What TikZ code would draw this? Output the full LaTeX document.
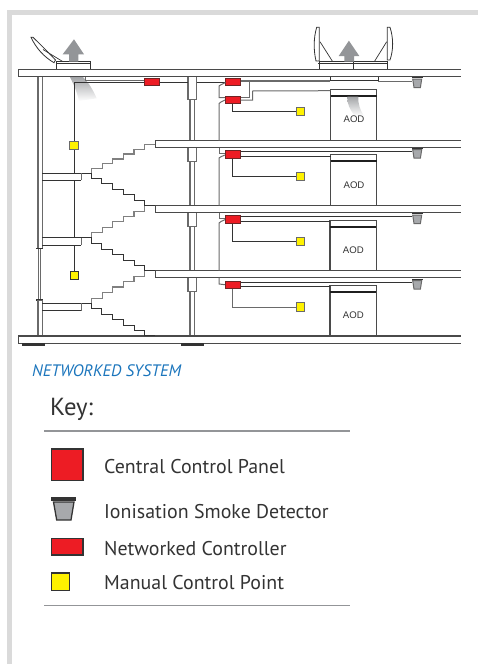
\documentclass[tikz,border=0pt]{standalone}
\usepackage{fontspec}
\setmainfont{PT Sans}
\setsansfont{Liberation Sans}
\usetikzlibrary{calc}
\definecolor{frameg}{HTML}{DADADA}
\definecolor{ln}{HTML}{333333}
\definecolor{lg}{HTML}{6A6A6A}
\definecolor{redc}{HTML}{ED1C24}
\definecolor{yel}{HTML}{FFF200}
\definecolor{arrowg}{HTML}{939598}
\definecolor{cupg}{HTML}{A7A9AC}
\definecolor{blu}{HTML}{1B75BC}
\definecolor{txt}{HTML}{333333}
\tikzset{
 x=1pt,y=-1pt,
 thinl/.style={draw=ln,line width=0.9pt},
 greyl/.style={draw=lg,line width=1pt},
 wall/.style={draw=lg,line width=1.3pt,fill=white},
 slabedge/.style={draw=lg!70!black,line width=1.2pt},
 stairg/.style={draw=lg!85!white,line width=1.2pt},
 stairk/.style={draw=ln,line width=1pt},
 ctrl/.style={draw=ln!70!red,line width=1pt,fill=redc,minimum width=14.7pt,minimum height=7.4pt,inner sep=0pt},
 mcp/.style={draw=lg,line width=1.1pt,fill=yel,minimum width=8.2pt,minimum height=8.2pt,inner sep=0pt},
 aodtxt/.style={font=\sffamily\fontsize{9.6}{11}\selectfont,text=txt,inner sep=0pt},
 keytxt/.style={font=\fontsize{19.9}{23}\selectfont,text=txt,anchor=base west,inner sep=0pt},
}
% detector: x-centre, y of top bar
\newcommand{\detector}[2]{%
 \fill[ln] (#1-5.5,#2) rectangle (#1+5.5,#2+1);
 \draw[draw=lg,line width=1pt,fill=cupg] (#1-4.5,#2+2) -- (#1+4.5,#2+2) -- (#1+3.2,#2+10.5) -- (#1-3.2,#2+10.5) -- cycle;
}
% aod: x-left, y-top, y-bottom
\newcommand{\aodbox}[3]{%
 \draw[draw=lg!70!black,line width=1.1pt,fill=white] (#1,#3) -- (#1,#2) -- (#1+46.2,#2) -- (#1+46.2,#3);
 \draw[draw=ln!60!black,line width=1.6pt] (#1,#2+6.4) -- (#1+46.2,#2+6.4);
}
\newcommand{\slabr}[3]{% x-left, top, bottom (open at right)
 \fill[white] (#1,#2) rectangle (460.7,#3);
 \draw[slabedge] (460.7,#2) -- (#1,#2) -- (#1,#3) -- (460.7,#3);
}
\begin{document}
\begin{tikzpicture}
\useasboundingbox (0,0) rectangle (478,664);
% frame
\fill[frameg] (6.7,10) rectangle (478,15);
\fill[frameg] (6.7,10) rectangle (12,664);
% left hatch
\draw[draw=ln,line width=0.8pt,fill=white] (31,37.3) .. controls (36,48) and (44,57) .. (54,62.7) -- (55.5,60) .. controls (50,54) and (40,44) .. (33,37.3) -- cycle;
\draw[ln,line width=0.7pt] (43,49.5) -- (63,61.7);
\draw[draw=ln,line width=0.9pt,fill=white] (56.7,61.7) rectangle (90.7,69);
\draw[ln,line width=0.7pt] (56.7,63.4) -- (90.7,63.4);
\fill[arrowg] (74,39.3) -- (84,54.3) -- (78.3,54.3) -- (78.3,61.7) -- (69,61.7) -- (69,54.3) -- (62.7,54.3) -- cycle;
% right hatch
\draw[draw=ln,line width=0.8pt,fill=white] (316.7,27.3) .. controls (313.5,38) and (313.5,50) .. (316,61) -- (319.3,61) -- (319.3,27.3) -- cycle;
\draw[draw=ln,line width=0.8pt,fill=white] (390,27.3) .. controls (393.5,38) and (393.5,50) .. (390,60) -- (387.3,60) -- (387.3,27.3) -- cycle;
\draw[ln,line width=0.7pt] (320,41.7) -- (332.7,61.7);
\draw[ln,line width=0.7pt] (386.7,41.7) -- (374.3,61.7);
\draw[draw=ln,line width=0.9pt,fill=white] (319.3,61.7) rectangle (353.5,69);
\draw[draw=ln,line width=0.9pt,fill=white] (353.5,61.7) rectangle (387.3,69);
\draw[ln,line width=0.8pt] (318.3,63.4) -- (388.3,63.4);
\fill[arrowg] (348.9,40.7) -- (359.3,56) -- (354,56) -- (354,61.7) -- (344.3,61.7) -- (344.3,56) -- (338.7,56) -- cycle;
% left outer wall
\draw[wall] (38,76) rectangle (42.3,248.3);
\draw[draw=lg,line width=0.9pt] (38.3,248.3) -- (38.3,300);
\draw[draw=lg,line width=0.9pt] (40.5,248.3) -- (40.5,300);
\draw[ln,line width=1.1pt] (36.3,248.5) -- (43,248.5);
\draw[ln,line width=1.6pt] (36.3,300) -- (43,300);
\draw[wall] (38,300.5) rectangle (42.3,336);
% central column
\draw[wall] (190,76) rectangle (194.7,336);
\draw[wall] (188,76) rectangle (196.7,99.3);
\draw[wall] (188,147.7) rectangle (196.7,161.3);
\draw[wall] (188,212.7) rectangle (196.7,226.7);
\draw[wall] (188,277.7) rectangle (196.7,291.7);
% AOD boxes
\aodbox{330.6}{89.3}{140.7}
\aodbox{330.6}{154.3}{205.7}
\aodbox{330}{220.7}{270.7}
\aodbox{330}{285.3}{336}
% slabs
\slabr{18.7}{69.3}{76.5}
\slabr{155.3}{140.7}{147.7}
\slabr{155.3}{205.7}{212.7}
\slabr{155.3}{270.7}{277.7}
\slabr{18.7}{336}{343.2}
\fill[ln] (22,343.4) rectangle (45,345.8);
\fill[ln] (181,343.4) rectangle (204,345.8);
% smoke
\shade[top color=arrowg!85,bottom color=white] (347.3,96.7) -- (358.3,96.7) .. controls (358,104) and (360,110) .. (364,116) -- (355,116) .. controls (350,110) and (347,104) .. (347.3,96.7) -- cycle;
\shade[top color=arrowg!85,bottom color=white] (70,77.2) -- (83,77.2) .. controls (89,83) and (93,90) .. (96.7,98.3) -- (79,101) .. controls (77,92) and (74,85) .. (70,77.2) -- cycle;
\node[aodtxt] (a1) at (354,119.5) {AOD};
\node[aodtxt] (a2) at (354,185) {AOD};
\node[aodtxt] (a3) at (353.3,250) {AOD};
\node[aodtxt] (a4) at (353.3,315) {AOD};
% stairs
\draw[stairg] (91.7,173.3) -- (91.7,168.3) -- (102.3,168.3) -- (102.3,163.3) -- (112.7,163.3) -- (112.7,159) -- (123.3,159) -- (123.3,154) -- (134,154) -- (134,149.3) -- (144.3,149.3) -- (144.3,144.3) -- (155.3,144.3);
\draw[stairk] (91.7,173.3) -- (91.7,178.3) -- (101.7,178.3) -- (101.7,183.3) -- (112.7,183.3) -- (112.7,189.3) -- (123.3,189.3) -- (123.3,194.7) -- (134,194.7) -- (134,200) -- (144.3,200) -- (144.3,205.5) -- (155.3,205.5);
\draw[stairg] (91.7,237.7) -- (91.7,232.7) -- (102.3,232.7) -- (102.3,227.3) -- (112.7,227.3) -- (112.7,221.7) -- (123.3,221.7) -- (123.3,216.7) -- (134,216.7) -- (134,211.3) -- (144.3,211.3) -- (144.3,205.5);
\draw[stairk] (91.7,237.7) -- (91.7,243.3) -- (101.7,243.3) -- (101.7,249) -- (112.7,249) -- (112.7,254.7) -- (123.3,254.7) -- (123.3,260) -- (134,260) -- (134,265.7) -- (144.3,265.7) -- (144.3,270.7) -- (155.3,270.7);
\draw[stairg] (91.7,303.3) -- (91.7,298.3) -- (102.3,298.3) -- (102.3,292.7) -- (112.7,292.7) -- (112.7,287) -- (123.3,287) -- (123.3,281.7) -- (134,281.7) -- (134,276.7) -- (144.3,276.7) -- (144.3,270.7);
\draw[stairk] (91.7,303.3) -- (91.7,308.3) -- (101.7,308.3) -- (101.7,314) -- (112.7,314) -- (112.7,319.3) -- (123.3,319.3) -- (123.3,325) -- (134,325) -- (134,330.7) -- (144.3,330.7) -- (144.3,335.5) -- (155.3,335.5);
% landings
\foreach \ya/\yb in {173.3/180, 237.9/245.3, 303.3/310.5}{
 \fill[white] (43,\ya) rectangle (81,\yb);
 \draw[stairk] (42.3,\ya) -- (91.7,\ya);
 \draw[draw=lg,line width=1pt] (81,\yb) -- (81,\ya);
 \draw[stairk] (42.3,\yb) -- (81,\yb);
}
% detector anchor points and AOD wire ends
\coordinate (det0) at (411.7,81.7);
\coordinate (det1) at (411.7,151.7);
\coordinate (det2) at (411.7,216.7);
\coordinate (det3) at (411.7,282.7);
\coordinate (aod0) at (330.6,90.7);
\coordinate (aod1) at (330.6,156);
\coordinate (aod2) at (330,221.7);
\coordinate (aod3) at (330,286.3);
\detector{417.2}{77}
\detector{417.2}{147.7}
\detector{417.2}{213}
\detector{417.2}{278.7}
% controllers and manual points
\node[ctrl] (cc0) at (151.7,82) {};
\node[ctrl] (cc1) at (233.3,82) {};
\node[ctrl] (cc2) at (232.8,99.7) {};
\node[ctrl] (cc3) at (232.8,154.3) {};
\node[ctrl] (cc4) at (232.8,219.3) {};
\node[ctrl] (cc5) at (232.8,284.7) {};
\node[mcp] (m1) at (74,145.3) {};
\node[mcp,draw=ln] (m2) at (74.3,275.7) {};
\node[mcp] (m3) at (300.2,111.5) {};
\node[mcp] (m4) at (300.2,176.2) {};
\node[mcp] (m5) at (300.2,241.7) {};
\node[mcp] (m6) at (300.2,307) {};
% wiring roof
\draw[greyl] (85.7,76.5) |- (cc0.west |- 0,80);
\draw[thinl] (m1.north) -- (74,82.4) -- (cc0.west |- 0,82.4);
\draw[thinl] (m1.south) -- (74,173.3);
\draw[thinl] (74,180) -- (74,237.9);
\draw[thinl] (74.3,245.3) -- (m2.north);
\draw[thinl] (cc0.east) -- (188,82);
\draw[thinl] (196.7,82) -- (cc1.west);
\draw[lg,line width=1.7pt] (cc1.east |- 0,80.7) -- (330,80.7);
\draw[thinl] (330,76.5) -- (330,80) -- (378.3,80) -- (378.3,76.5);
\draw[lg,line width=1.2pt] (378.3,81.7) -- (det0);
\draw[greyl] (cc1.east |- 0,81) -- (249.3,81) -- (249.3,97.3) -- (cc2.east |- 0,97.3);
\draw[greyl] (cc2.east |- 0,100) -- (252.7,100) -- (252.7,91) -- (aod0);
\draw[thinl] (cc2.south) |- (m3.west);
% grey riser
\draw[greyl] (cc1.west |- 0,82.5) -- (221,84.7) -- (219,86) -- (219,97.7) -- (cc2.west |- 0,97.7);
\draw[greyl] (cc2.west |- 0,100) -- (221,102) -- (219,103.5) -- (219,140.7);
\draw[greyl] (219,147.7) -- (219,153) -- (cc3.west |- 0,153);
\draw[greyl] (cc3.west |- 0,155) -- (221,156.7) -- (219,158) -- (219,205.7);
\draw[greyl] (219,212.7) -- (219,218) -- (cc4.west |- 0,218);
\draw[greyl] (cc4.west |- 0,219.7) -- (221,221.5) -- (219,223) -- (219,270.7);
\draw[greyl] (219,277.7) -- (219,284) -- (cc5.west);
% floor wires
\draw[thinl] (cc3.east |- det1) -- (det1);
\draw[thinl] (cc3.east |- aod1) -- (aod1);
\draw[thinl] (cc4.east |- det2) -- (det2);
\draw[thinl] (cc4.east |- aod2) -- (aod2);
\draw[thinl] (cc5.east |- det3) -- (det3);
\draw[thinl] (cc5.east |- aod3) -- (aod3);
\draw[thinl] (cc3.south) |- (m4.west);
\draw[thinl] (cc4.south) |- (m5.west);
\draw[greyl] (cc5.south) |- (m6.west);
% caption
\node[anchor=base west,inner sep=0pt,text=blu,font=\fontsize{16.6}{19}\selectfont\itshape] (cap) at (32,376) {NETWORKED SYSTEM};
\node[anchor=base west,inner sep=0pt,text=txt,font=\fontsize{24.7}{29}\selectfont] (keyt) at (50,415.7) {Key:};
\draw[arrowg,line width=1.5pt] (44,431) -- (350,431);
\draw[arrowg,line width=1.5pt] (44,605.3) -- (350,605.3);
% key items
\draw[draw=ln,line width=1.5pt,fill=redc] (51.3,449) rectangle (82.8,480.5);
\node[keytxt] (t1) at (104,473.3) {Central Control Panel};
\fill[ln] (51,497.3) rectangle (75.7,501.3);
\draw[draw=ln,line width=1.3pt,fill=cupg] (53.5,502) -- (74,502) -- (71,520) -- (56.7,520) -- cycle;
\node[keytxt] (t2) at (104,518.3) {Ionisation Smoke Detector};
\draw[draw=ln,line width=1.5pt,fill=redc] (51.3,538.3) rectangle (83,554.8);
\node[keytxt] (t3) at (104,555) {Networked Controller};
\draw[draw=ln,line width=1.5pt,fill=yel] (51.3,573) rectangle (69.5,590.5);
\node[keytxt] (t4) at (104,589) {Manual Control Point};
\end{tikzpicture}
\end{document}
